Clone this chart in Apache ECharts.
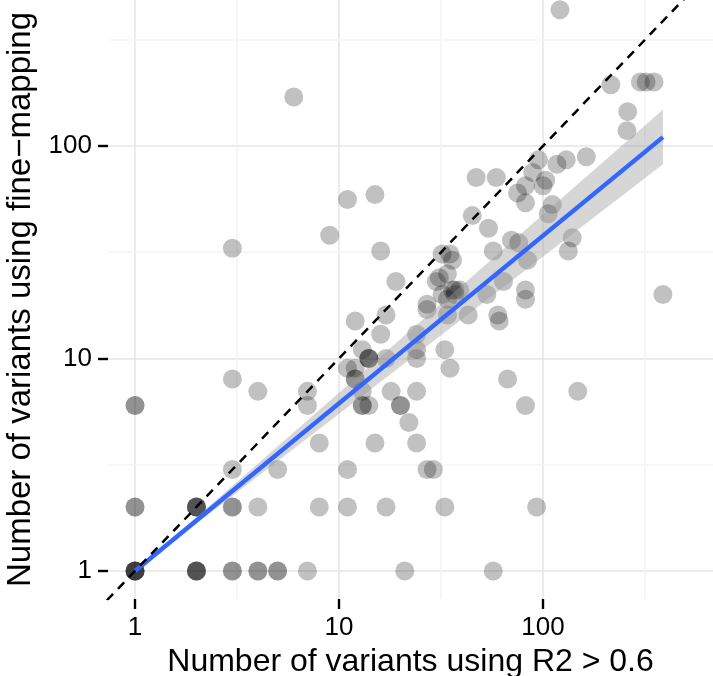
<!DOCTYPE html>
<html>
<head>
<meta charset="utf-8">
<script src="https://cdn.jsdelivr.net/npm/echarts@6/dist/echarts.min.js"></script>
<style>
  html, body { margin: 0; padding: 0; background: #fff; }
  #chart { width: 713px; height: 676px; }
</style>
</head>
<body>
<div id="chart"></div>
<script>
// one entry per locus (repeated pairs are overlapping loci)
var r2Counts = [
  1, 1, 1, 1, 1, 2, 2, 2, 2, 2, 2, 2, 2, 1, 1, 1, 1, 3, 3, 4, 4, 5, 5, 3, 3,
  7, 4, 3, 3, 4, 5, 7, 7, 8, 8, 11, 11, 17, 15, 21, 57,
  12, 17, 16, 19, 14, 14, 14, 13, 17, 11, 12, 12, 12, 13, 13, 13, 14, 18, 20, 20,
  24, 24, 24, 24, 22, 24, 27, 29, 33, 93, 33, 35, 67, 148, 82,
  27, 27, 30, 31, 34, 32, 36, 37, 39, 37, 34, 34, 43, 32, 35, 36,
  45, 47, 59, 54, 57, 53, 64, 82, 82, 60, 61, 70, 76, 84, 139, 133,
  75, 82, 82, 100, 103, 89, 95, 117, 130, 163, 111, 106,
  215, 300, 320, 350, 260, 258, 121, 387, 6, 3, 11, 15, 9, 16
];
var fineMapCounts = [
  1, 1, 1, 1, 1, 1, 1, 1, 1, 2, 2, 2, 2, 2, 2, 6, 6, 1, 1, 1, 1, 1, 1, 2, 2,
  1, 2, 3, 8, 7, 3, 7, 6, 4, 2, 3, 2, 2, 4, 1, 1,
  15, 16, 13, 23, 10, 10, 10, 11, 10, 9, 9, 8, 8, 7, 6, 6, 6, 7, 6, 6,
  7, 13, 11, 10, 5, 4, 3, 3, 2, 2, 11, 9, 8, 7, 6,
  18, 17, 23, 24, 25, 20, 21, 21, 21, 20, 19, 16, 16, 31, 31, 29,
  47, 71, 71, 41, 32, 20, 23, 21, 19, 16, 15, 36, 35, 29, 37, 32,
  60, 54, 65, 65, 69, 75, 86, 82, 86, 89, 53, 48,
  194, 200, 200, 200, 145, 118, 437, 20, 170, 33, 56, 59, 38, 32
];

// log-log linear fit and its confidence band, at the ends of the x range
var fitX = [1, 387];
var fitY = [1, 110];
var bandLow = [1, 82];
var bandHigh = [1, 148];

// y = x reference
var refX = [0.5, 1000];
var refY = [0.5, 1000];

var tickValues = [1, 10, 100];
var minorValues = [3.162, 31.62, 316.2];

var xRange = [0.737, 681];
var yRange = [0.738, 486];

var points = r2Counts.map(function (x, i) { return [x, fineMapCounts[i]]; });
var fitLine = fitX.map(function (x, i) { return [x, fitY[i]]; });
var band = fitX.map(function (x, i) { return [x, bandLow[i], bandHigh[i]]; });
var refLine = refX.map(function (x, i) { return [x, refY[i]]; });

// grid lines drawn as mark lines so they follow the log scales
var majorStyle = { color: '#e6e6e6', width: 1.6, type: 'solid' };
var minorStyle = { color: '#f4f4f4', width: 1.6, type: 'solid' };
var gridLines = [];
tickValues.forEach(function (v) {
  gridLines.push({ xAxis: v, lineStyle: majorStyle });
  gridLines.push({ yAxis: v, lineStyle: majorStyle });
});
minorValues.forEach(function (v) {
  gridLines.push({ xAxis: v, lineStyle: minorStyle });
  gridLines.push({ yAxis: v, lineStyle: minorStyle });
});

var fontName = '"Liberation Sans", Arial, Helvetica, sans-serif';

var chart = echarts.init(document.getElementById('chart'));
chart.setOption({
  animation: false,
  backgroundColor: '#fff',
  grid: { left: 108, right: 0, top: 0, bottom: 77, containLabel: false, outerBoundsMode: 'none' },
  xAxis: {
    type: 'log',
    logBase: 10,
    min: xRange[0],
    max: xRange[1],
    name: 'Number of variants using R2 > 0.6',
    nameLocation: 'middle',
    nameGap: 47,
    nameTextStyle: { color: '#000', fontSize: 32, fontFamily: fontName },
    axisLine: { show: false },
    axisTick: { show: true, length: 10, customValues: tickValues, lineStyle: { color: '#000', width: 2.4 } },
    axisLabel: { customValues: tickValues, color: '#000', fontSize: 26, fontFamily: fontName, margin: 16 },
    splitLine: { show: false },
    minorTick: { show: false },
    minorSplitLine: { show: false }
  },
  yAxis: {
    type: 'log',
    logBase: 10,
    min: yRange[0],
    max: yRange[1],
    name: 'Number of variants using fine\u2212mapping',
    nameLocation: 'middle',
    nameGap: 67,
    nameTextStyle: { color: '#000', fontSize: 33, fontFamily: fontName },
    axisLine: { show: false },
    axisTick: { show: true, length: 10, customValues: tickValues, lineStyle: { color: '#000', width: 2.4 } },
    axisLabel: { customValues: tickValues, color: '#000', fontSize: 26, fontFamily: fontName, margin: 16 },
    splitLine: { show: false },
    minorTick: { show: false },
    minorSplitLine: { show: false }
  },
  series: [
    {
      name: 'grid',
      type: 'line',
      data: [],
      silent: true,
      z: 0,
      markLine: {
        silent: true,
        z: 0,
        symbol: ['none', 'none'],
        label: { show: false },
        emphasis: { disabled: true },
        data: gridLines
      }
    },
    {
      name: 'loci',
      type: 'scatter',
      data: points,
      symbol: 'circle',
      symbolSize: 19,
      z: 2,
      itemStyle: { color: 'rgba(0,0,0,0.3)' }
    },
    {
      name: 'band',
      type: 'custom',
      data: band,
      z: 3,
      silent: true,
      clip: true,
      encode: { x: 0, y: [1, 2] },
      renderItem: function (params, api) {
        if (params.dataIndex !== 0) return;
        var pts = [];
        band.forEach(function (d) { pts.push(api.coord([d[0], d[2]])); });
        band.slice().reverse().forEach(function (d) { pts.push(api.coord([d[0], d[1]])); });
        return {
          type: 'polygon',
          shape: { points: pts },
          style: { fill: 'rgba(153,153,153,0.4)', stroke: 'none' }
        };
      }
    },
    {
      name: 'fit',
      type: 'line',
      data: fitLine,
      z: 4,
      symbol: 'none',
      silent: true,
      lineStyle: { color: '#3366FF', width: 4.5 }
    },
    {
      name: 'y = x',
      type: 'line',
      data: refLine,
      z: 5,
      clip: true,
      symbol: 'none',
      silent: true,
      lineStyle: { color: '#000', width: 2.5, type: [9, 7] }
    }
  ]
});
</script>
</body>
</html>
